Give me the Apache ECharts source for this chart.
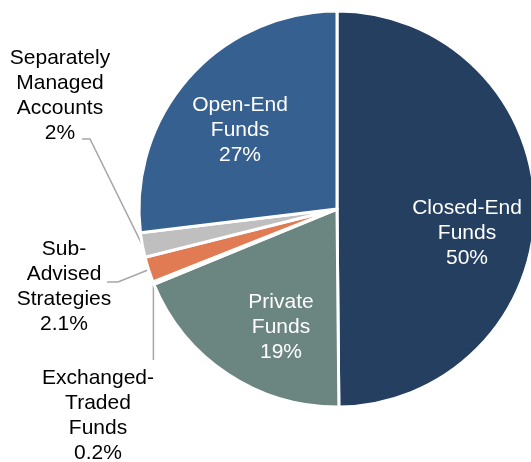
<!DOCTYPE html>
<html>
<head>
<meta charset="utf-8">
<script src="https://cdn.jsdelivr.net/npm/echarts@6/dist/echarts.min.js"></script>
<style>
  html, body { margin: 0; padding: 0; background: #fff; }
  #chart { width: 531px; height: 462px; }
</style>
</head>
<body>
<div id="chart"></div>
<script>
// slice order: clockwise from 12 o'clock
const names = ['Closed-End\nFunds', 'Private\nFunds', 'Exchanged-\nTraded\nFunds', 'Sub-\nAdvised\nStrategies', 'Separately\nManaged\nAccounts', 'Open-End\nFunds'];
const values = [50, 19, 0.2, 2.1, 2, 27];
const pctLabels = ['50%', '19%', '0.2%', '2.1%', '2%', '27%'];
const colors = ['#253f60', '#6b8580', '#7f7f7f', '#e07b53', '#bfbfbf', '#36608f'];

// label placement (centre of text block) and whether the label sits inside the slice
const labelPos = [[467, 233], [281, 327], [98, 416], [64, 287], [60, 96], [240, 130]];
const inside = [true, true, false, false, false, true];
// leader line bend + end points for the outside labels (null = use vertical drop)
const leaderPts = [null, null, [[null, 340], [null, 360]], [[118, 282], [107, 282]], [[90, 139], [82, 139]], null];

const chart = echarts.init(document.getElementById('chart'));

const data = names.map((n, i) => ({
  name: n,
  value: values[i],
  itemStyle: { color: colors[i] },
  label: {
    position: inside[i] ? 'inside' : 'outside',
    color: inside[i] ? '#ffffff' : '#000000',
    formatter: n + '\n' + pctLabels[i]
  },
  labelLine: { show: !inside[i] }
}));

chart.setOption({
  animation: false,
  series: [{
    type: 'pie',
    center: [337, 209],
    radius: 198,
    startAngle: 90,
    clockwise: true,
    itemStyle: { borderColor: '#ffffff', borderWidth: 3 },
    label: {
      fontFamily: 'Liberation Sans, Arial, sans-serif',
      fontSize: 21,
      lineHeight: 25,
      align: 'center'
    },
    labelLine: {
      lineStyle: { color: '#a6a6a6', width: 1.5 },
      length: 15,
      length2: 10
    },
    labelLayout: function (p) {
      const i = p.dataIndex;
      const pos = labelPos[i];
      const out = { x: pos[0], y: pos[1], align: 'center', verticalAlign: 'middle' };
      const lp = leaderPts[i];
      if (lp && p.labelLinePoints) {
        const a = p.labelLinePoints[0];
        out.labelLinePoints = [a].concat(lp.map(q => [q[0] == null ? a[0] : q[0], q[1]]));
      }
      return out;
    },
    data: data
  }]
});
</script>
</body>
</html>
